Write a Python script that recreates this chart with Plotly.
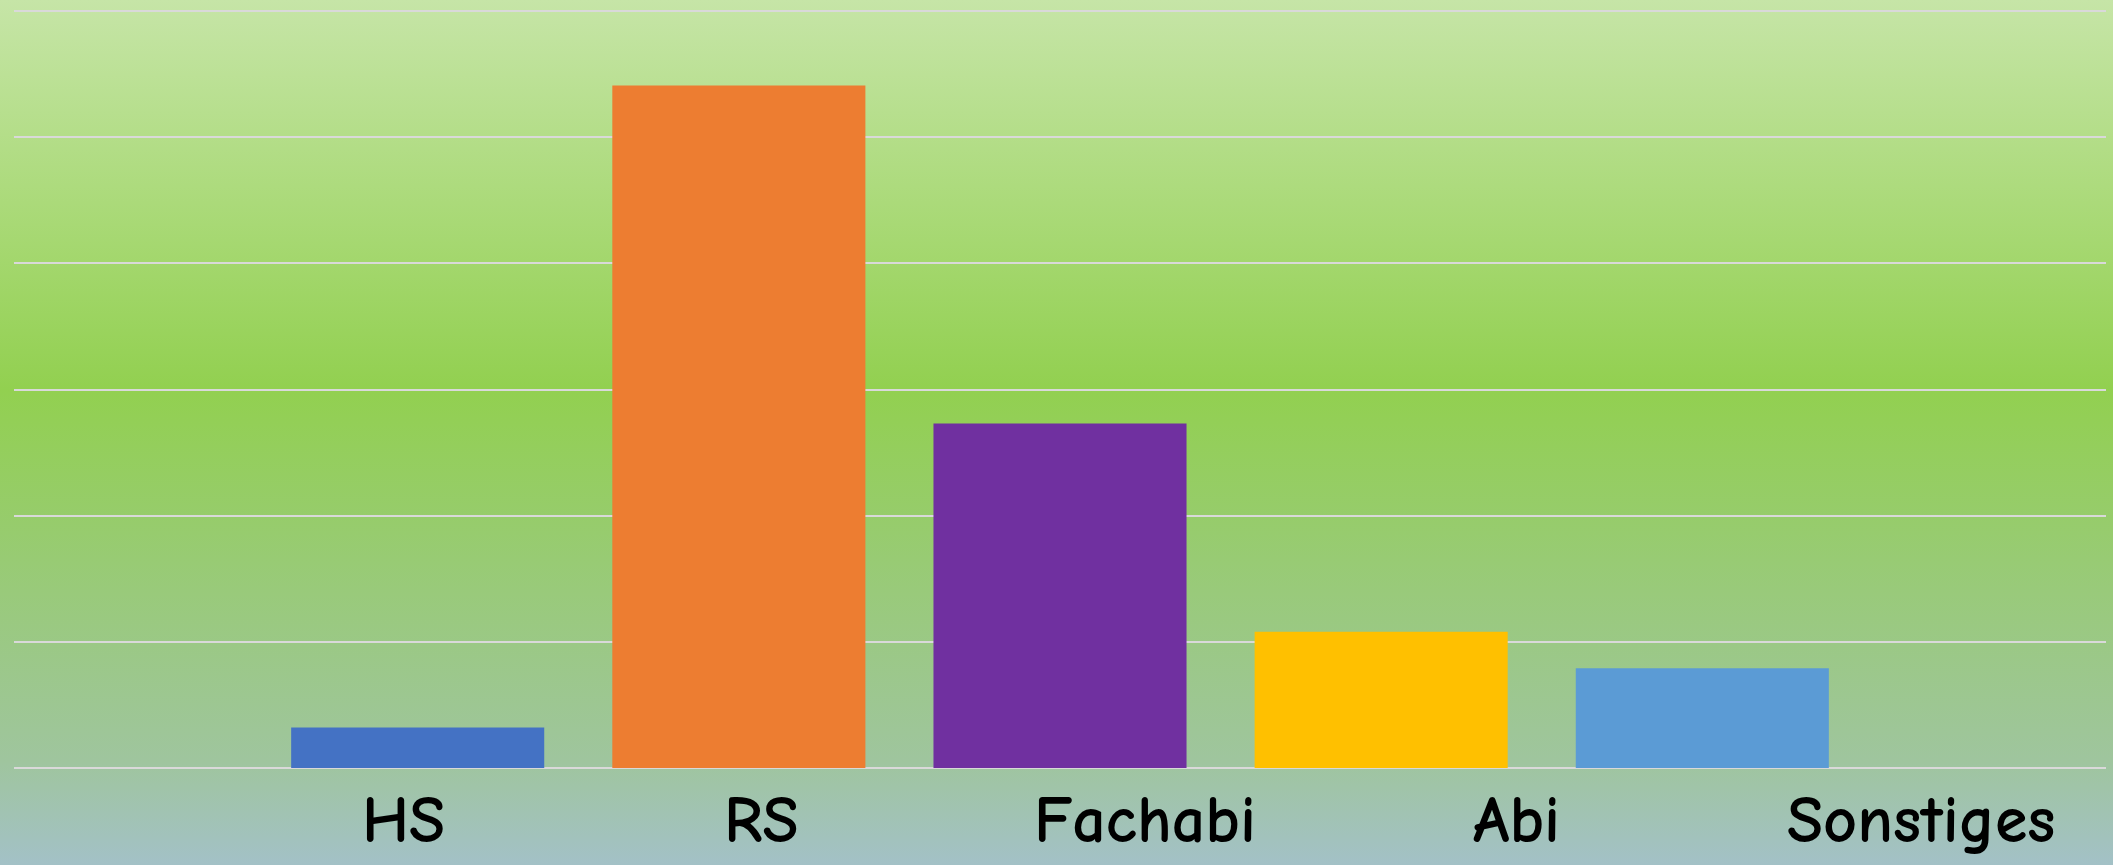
import base64
import plotly.graph_objects as go

# ---- data ----
categories = ["HS", "RS", "Fachabi", "Abi", "Sonstiges"]
values = [3.2, 54.1, 27.3, 10.8, 7.9]
bar_colors = ["#4472C4", "#ED7D31", "#7030A0", "#FFC000", "#5B9BD5"]
# label positions (category index units) as placed in the original slide
label_x = [-0.045, 1.07, 2.265, 3.42, 4.68]

W, H = 2113, 865
ml, mr, mt, mb = 14, 7, 10, 96
pw, ph = W - ml - mr, H - mt - mb

svg = (
    '<svg xmlns="http://www.w3.org/2000/svg" width="2113" height="865" preserveAspectRatio="none">'
    '<defs><linearGradient id="g" x1="0" y1="0" x2="0" y2="1">'
    '<stop offset="0" stop-color="#c6e5a7"/>'
    '<stop offset="0.45" stop-color="#92d050"/>'
    '<stop offset="0.88" stop-color="#9fc59e"/>'
    '<stop offset="1" stop-color="#a3c1c7"/>'
    '</linearGradient></defs>'
    '<rect x="0" y="0" width="2113" height="865" fill="url(#g)"/></svg>'
)
src = "data:image/svg+xml;base64," + base64.b64encode(svg.encode()).decode()

fig = go.Figure(
    go.Bar(
        x=categories,
        y=values,
        marker=dict(color=bar_colors, line=dict(width=0)),
        width=0.788,
        hoverinfo="x+y",
    )
)

fig.add_layout_image(
    dict(
        source=src,
        xref="paper", yref="paper",
        x=-ml / pw, y=1 + mt / ph,
        sizex=W / pw, sizey=H / ph,
        xanchor="left", yanchor="top",
        sizing="stretch", layer="below",
    )
)

for name, lx in zip(categories, label_x):
    fig.add_annotation(
        x=lx, y=-0.069, xref="x", yref="paper",
        text="<b>" + name + "</b>", showarrow=False,
        xanchor="center", yanchor="middle",
        font=dict(family="Comic Sans MS, Comic Neue, DejaVu Sans", size=66,
                  color="#000000", weight="bold"),
    )

fig.update_layout(
    width=W, height=H, autosize=False,
    margin=dict(l=ml, r=mr, t=mt, b=mb, pad=0),
    paper_bgcolor="#9fc59e",
    plot_bgcolor="rgba(0,0,0,0)",
    showlegend=False,
    xaxis=dict(
        type="category", range=[-1.257, 5.257],
        showticklabels=False, showgrid=False, zeroline=False, showline=False, ticks="",
    ),
    yaxis=dict(
        range=[-0.08, 60.08], dtick=10, tick0=0, showticklabels=False,
        showgrid=True, gridcolor="#d9d9d9", gridwidth=2,
        zeroline=False, showline=False, ticks="",
    ),
    font=dict(family="DejaVu Sans"),
)

fig.write_html(
    "out.html",
    config={"displayModeBar": False},
    post_script="document.body.style.margin='0';document.body.style.overflow='hidden';",
)
